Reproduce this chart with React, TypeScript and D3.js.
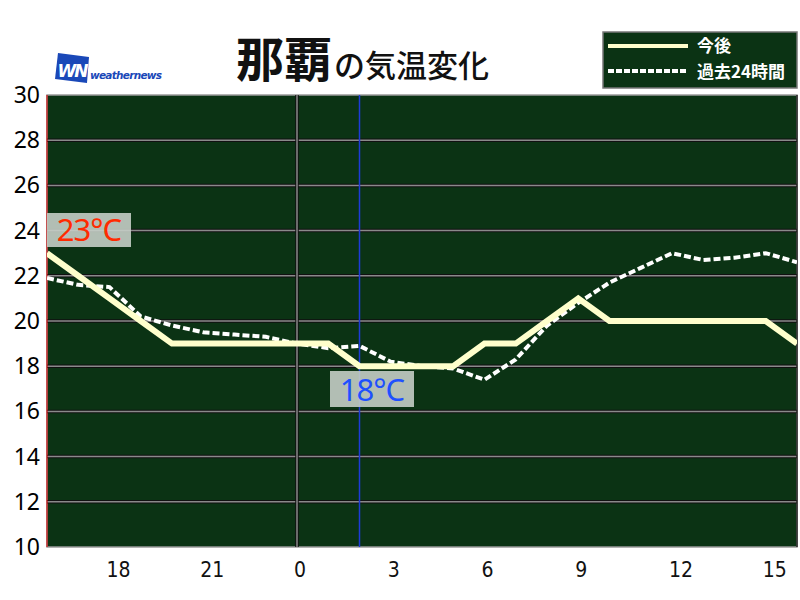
import React from "react";
import * as d3 from "d3";

const hours = [16,17,18,19,20,21,22,23,0,1,2,3,4,5,6,7,8,9,10,11,12,13,14,15,16];
const forecast = [23,22,21,20,19,19,19,19,19,19,18,18,18,18,19,19,20,21,20,20,20,20,20,20,19];
const past24 = [21.9,21.6,21.5,20.2,19.8,19.5,19.4,19.3,19.0,18.8,18.9,18.2,18.0,17.9,17.4,18.3,19.8,20.8,21.7,22.35,23.0,22.7,22.8,23.0,22.6];
const xTickLabels = ["18","21","0","3","6","9","12","15"];
const xTickIndex = [2,5,8,11,14,17,20,23];
const yTicks = [10,12,14,16,18,20,22,24,26,28,30];
const nowIndex = 10;
const midnightIndex = 8;
const maxLabel = "23°C";
const minLabel = "18°C";

export default function App() {
  const W = 800, H = 600;
  const left = 47, right = 797, top = 95, bottom = 547;
  const x = d3.scaleLinear().domain([0, hours.length - 1]).range([left, right]);
  const y = d3.scaleLinear().domain([10, 30]).range([bottom, top]);
  const line = d3.line<number>().x((_, i) => x(i)).y(d => y(d));
  const jp = "'Noto Sans CJK JP', 'Noto Sans', sans-serif";
  const num = "'Noto Sans', 'DejaVu Sans', sans-serif";
  return (
    <svg width={W} height={H} style={{ position: "absolute", left: 0, top: 0, background: "#fff" }}>
      <defs>
        <clipPath id="plot"><rect x={left} y={top} width={right - left} height={bottom - top} /></clipPath>
      </defs>
      <rect x={left} y={top} width={right - left} height={bottom - top} fill="#0b3314" stroke="#9a9a9a" strokeWidth={1.5} />
      {yTicks.slice(1, -1).map(t => (
        <g key={t}>
          <line x1={left} x2={right} y1={y(t)} y2={y(t)} stroke="#111" strokeWidth={3.5} />
          <line x1={left} x2={right} y1={y(t)} y2={y(t)} stroke="#8a8a8a" strokeWidth={1.5} />
        </g>
      ))}
      <line x1={x(midnightIndex)} x2={x(midnightIndex)} y1={top} y2={bottom} stroke="#111" strokeWidth={3.5} />
      <line x1={x(midnightIndex)} x2={x(midnightIndex)} y1={top} y2={bottom} stroke="#8a8a8a" strokeWidth={1.5} />
      <line x1={x(nowIndex)} x2={x(nowIndex)} y1={top} y2={bottom} stroke="#1e3cd8" strokeWidth={1.5} />
      <line x1={left} x2={left} y1={top} y2={bottom} stroke="#d01010" strokeWidth={1.2} />
      <line x1={right} x2={right} y1={top} y2={bottom} stroke="#222" strokeWidth={1.5} />
      <g clipPath="url(#plot)">
        <path d={line(past24) || ""} fill="none" stroke="#ffffff" strokeWidth={4} strokeDasharray="7 3" />
        <path d={line(forecast) || ""} fill="none" stroke="#ffffcc" strokeWidth={6} strokeLinejoin="miter" />
      </g>
      {/* labels */}
      <rect x={left} y={213} width={84} height={34} fill="#c4cdc5" fillOpacity={0.9} />
      <text x={left + 42} y={241} textAnchor="middle" fontFamily={num} fontSize={31} fill="#ff2a00" letterSpacing={-1}>{maxLabel}</text>
      <rect x={330} y={371} width={84} height={36} fill="#c4cdc5" fillOpacity={0.9} />
      <text x={372} y={401} textAnchor="middle" fontFamily={num} fontSize={31} fill="#1e50ff" letterSpacing={-1}>{minLabel}</text>
      {/* y axis */}
      {yTicks.map(t => (
        <text key={t} x={40} y={y(t) + 8} textAnchor="end" fontFamily={num} fontSize={23} fill="#000">{t}</text>
      ))}
      {/* x axis */}
      {xTickIndex.map((idx, k) => (
        <text key={k} x={x(idx) + (xTickLabels[k].length > 1 ? 9 : 3)} y={577} textAnchor="middle" fontFamily="'DejaVu Sans Condensed', 'Noto Sans', sans-serif" fontSize={21} fill="#111">{xTickLabels[k]}</text>
      ))}
      {/* title */}
      <text x={236} y={77} fontFamily={jp} fontWeight={700} fontSize={48} fill="#111">那覇<tspan fontSize={31} fontWeight={500} dx={2}>の気温変化</tspan></text>
      {/* logo */}
      <polygon points="58,53 89,57 87,83 55,79" fill="#1a48b8" />
      <text x={72} y={77} textAnchor="middle" fontFamily="'DejaVu Sans', sans-serif" fontWeight={700} fontStyle="italic" fontSize={17} fill="#fff" letterSpacing={-2}>WN</text>
      <text x={90} y={79} fontFamily="'DejaVu Sans', sans-serif" fontWeight={700} fontStyle="italic" fontSize={10.5} fill="#1a48b8" textLength={72}>weathernews</text>
      {/* legend */}
      <rect x={603} y={32} width={194} height={56} fill="#0b3314" stroke="#777" strokeWidth={1.5} />
      <line x1={608} x2={688} y1={46} y2={46} stroke="#ffffcc" strokeWidth={4} />
      <line x1={608} x2={688} y1={71} y2={71} stroke="#ffffff" strokeWidth={4} strokeDasharray="6 2" />
      <text x={697} y={52} fontFamily={jp} fontWeight={700} fontSize={17} fill="#fff">今後</text>
      <text x={697} y={78} fontFamily={jp} fontWeight={700} fontSize={17} fill="#fff">過去24時間</text>
    </svg>
  );
}
